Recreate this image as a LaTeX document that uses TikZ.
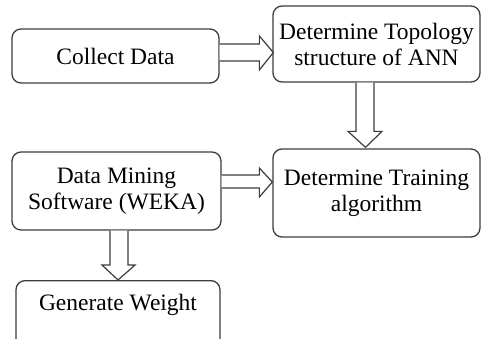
\documentclass[tikz,border=0pt]{standalone}
\usepackage{fontspec}
\setmainfont{Liberation Serif}
\begin{document}
\begin{tikzpicture}[x=1pt,y=-1pt,
  box/.style={draw=boxgray, line width=1.3pt, rounded corners=9pt, inner sep=0pt,
    align=center, font=\fontsize{23.5}{26}\selectfont, text=black},
  barrow/.style={draw=boxgray, line width=1.2pt, fill=white, line join=miter}]
\definecolor{boxgray}{HTML}{3C3C3C}
\clip (0,0) rectangle (482,338);
\useasboundingbox (0,0) rectangle (482,338);
\fill[white] (0,0) rectangle (482,338);

\node[box, minimum width=207pt, minimum height=54pt] (collect) at (115.5,56) {Collect Data};
\node[box, minimum width=207pt, minimum height=76pt] (topo) at (376.5,44) {Determine Topology\\structure of ANN};
\node[box, minimum width=207pt, minimum height=88pt] (train) at (376.5,193) {Determine Training\\algorithm};
\node[box, minimum width=209pt, minimum height=78pt] (mining) at (116.5,191) {Data Mining\\Software (WEKA)};
\node[box, minimum width=204pt, anchor=north, text height=30pt, text depth=50pt] (weight) at (118,280) {Generate Weight};

% Collect Data -> Topology
\draw[barrow] ([yshift=12pt]collect.east) -- ([xshift=-13pt]topo.west)
  -- ([xshift=-13pt,yshift=8pt]topo.west) -- ([xshift=1pt,yshift=-8.5pt]topo.west)
  -- ([xshift=-13pt,yshift=-26pt]topo.west) -- ([xshift=-13pt,yshift=-17pt]topo.west)
  -- ([yshift=-5pt]collect.east);

% Topology -> Training
\draw[barrow] ([xshift=-20.5pt]topo.south) -- ([xshift=-20.5pt,yshift=17pt]train.north)
  -- ([xshift=-28.5pt,yshift=17pt]train.north) -- ([xshift=-11pt,yshift=1pt]train.north)
  -- ([xshift=5.5pt,yshift=17pt]train.north) -- ([xshift=-2.5pt,yshift=17pt]train.north)
  -- ([xshift=-2.5pt]topo.south);

% Data Mining -> Training
\draw[barrow] ([yshift=16pt]mining.east) -- ([xshift=-13pt,yshift=18pt]train.west)
  -- ([xshift=-13pt,yshift=25pt]train.west) -- ([yshift=11pt]train.west)
  -- ([xshift=-13pt,yshift=-4pt]train.west) -- ([xshift=-13pt,yshift=5pt]train.west)
  -- ([yshift=3pt]mining.east);

% Data Mining -> Generate Weight
\draw[barrow] ([xshift=-6.5pt]mining.south) -- ([xshift=-8pt,yshift=15pt]weight.north)
  -- ([xshift=-16pt,yshift=15pt]weight.north) -- (weight.north)
  -- ([xshift=17pt,yshift=15pt]weight.north) -- ([xshift=10pt,yshift=15pt]weight.north)
  -- ([xshift=11.5pt]mining.south);
\end{tikzpicture}
\end{document}
